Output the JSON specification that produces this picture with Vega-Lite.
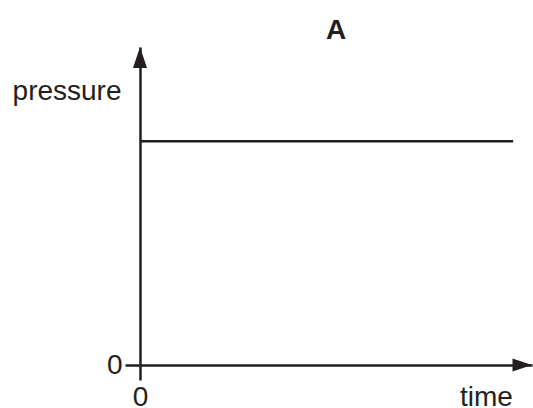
{
  "$schema": "https://vega.github.io/schema/vega-lite/v6.json",
  "width": 392,
  "height": 318,
  "autosize": "none",
  "padding": {"left": 140, "top": 47, "right": 1, "bottom": 43},
  "background": "white",
  "config": {"view": {"stroke": null}, "font": "Liberation Sans"},
  "title": {"text": "A", "fontSize": 28, "fontWeight": "bold", "font": "Liberation Sans", "color": "#231f20", "anchor": "middle", "frame": "group", "baseline": "alphabetic", "offset": 9, "dy": 29},
  "datasets": {
    "series": [{"time": 0, "pressure": 70.4}, {"time": 95.2, "pressure": 70.4}],
    "yarrow": [{"time": 0, "pressure": 100}],
    "xarrow": [{"time": 100, "pressure": 0}]
  },
  "encoding": {
    "x": {
      "field": "time", "type": "quantitative",
      "scale": {"domain": [0, 100], "nice": false, "zero": false},
      "axis": {
        "values": [0], "grid": false, "title": "time",
        "titleX": 346, "titleY": 40, "titleAlign": "center", "titleBaseline": "alphabetic",
        "titleFontSize": 28, "titleFontWeight": "normal", "titleColor": "#231f20", "titleFont": "Liberation Sans",
        "domainColor": "#231f20", "domainWidth": 2.5, "tickColor": "#231f20", "tickWidth": 2.5, "tickSize": 15,
        "labelPadding": 3, "labelColor": "#231f20", "labelFontSize": 28, "labelFont": "Liberation Sans",
        "labelFlush": false, "labelOverlap": false
      }
    },
    "y": {
      "field": "pressure", "type": "quantitative",
      "scale": {"domain": [0, 100], "nice": false, "zero": false},
      "axis": {
        "values": [0], "grid": false, "title": "pressure",
        "titleAngle": 0, "titleX": -19, "titleY": 52, "titleAlign": "right", "titleBaseline": "alphabetic",
        "titleFontSize": 28, "titleFontWeight": "normal", "titleColor": "#231f20", "titleFont": "Liberation Sans",
        "domainColor": "#231f20", "domainWidth": 2.5, "tickColor": "#231f20", "tickWidth": 2.5, "tickSize": 15,
        "labelPadding": 3, "labelColor": "#231f20", "labelFontSize": 28, "labelFont": "Liberation Sans",
        "labelFlush": false, "labelOverlap": false, "labelBaseline": "middle"
      }
    }
  },
  "layer": [
    {"data": {"name": "series"}, "mark": {"type": "line", "color": "#231f20", "strokeWidth": 2.5}},
    {"data": {"name": "yarrow"}, "mark": {"type": "point", "shape": "M0,0L-0.667,2L0.667,2Z", "size": 441, "filled": true, "opacity": 1, "color": "#231f20", "strokeWidth": 0}},
    {"data": {"name": "xarrow"}, "mark": {"type": "point", "shape": "M0,0L-2,-0.667L-2,0.667Z", "size": 380, "filled": true, "opacity": 1, "color": "#231f20", "strokeWidth": 0}}
  ]
}
